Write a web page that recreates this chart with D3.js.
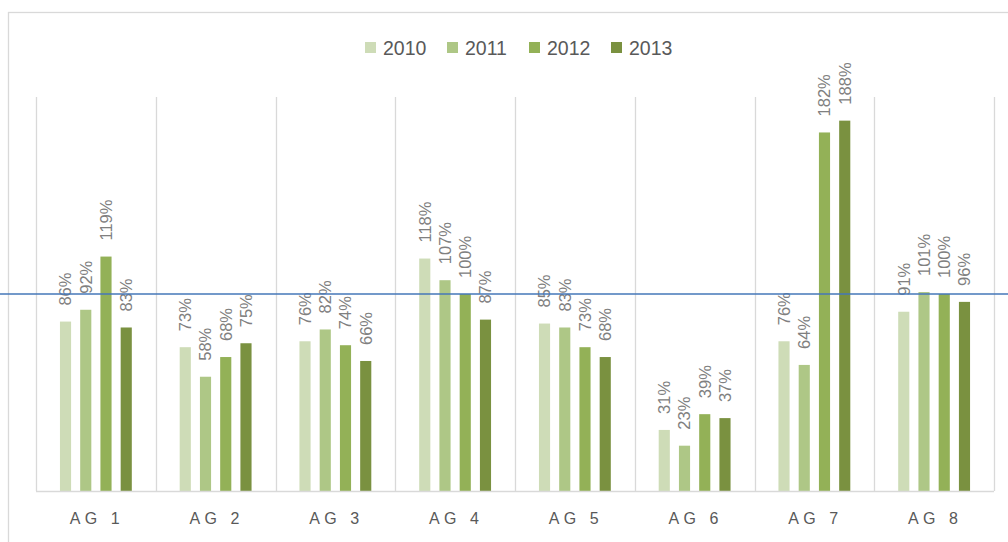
<!DOCTYPE html>
<html>
<head>
<meta charset="utf-8">
<script src="https://cdn.jsdelivr.net/npm/d3@7"></script>
<style>
  body { margin: 0; background: #fff; }
  svg { display: block; font-family: "Liberation Sans", Arial, sans-serif; }
</style>
</head>
<body>
<script>
var width = 1008, height = 542;

// data
var categories = ["AG 1", "AG 2", "AG 3", "AG 4", "AG 5", "AG 6", "AG 7", "AG 8"];
var years = ["2010", "2011", "2012", "2013"];
var v2010 = [86, 73, 76, 118, 85, 31, 76, 91];
var v2011 = [92, 58, 82, 107, 83, 23, 64, 101];
var v2012 = [119, 68, 74, 100, 73, 39, 182, 100];
var v2013 = [83, 75, 66, 87, 68, 37, 188, 96];
var series = [v2010, v2011, v2012, v2013];
var colors = ["#cedcb7", "#aec786", "#93b157", "#7a9140"];
var targetLine = 100;

var margin = {left: 36, right: 14, top: 97, bottom: 51};

var svg = d3.select("body").append("svg")
    .attr("width", width).attr("height", height);

// chart border (runs off right and bottom)
svg.append("rect")
    .attr("x", 8.5).attr("y", 12.5)
    .attr("width", 1100).attr("height", 600)
    .attr("fill", "none").attr("stroke", "#d9d9d9").attr("stroke-width", 1.3);

var x0 = d3.scaleBand()
    .domain(categories)
    .range([margin.left, width - margin.right])
    .padding(0);

var x1 = d3.scaleBand()
    .domain(years)
    .range([x0.bandwidth() * 0.2, x0.bandwidth() * 0.8])
    .paddingInner(0.45)
    .paddingOuter(0);

var y = d3.scaleLinear()
    .domain([0, 200])
    .range([height - margin.bottom, margin.top]);

// vertical gridlines between categories
var edges = categories.map(function(c) { return x0(c); });
edges.push(x0.range()[1]);
svg.selectAll(".vgrid")
    .data(edges)
    .enter().append("line")
    .attr("class", "vgrid")
    .attr("x1", function(d) { return Math.round(d) + 0.5; })
    .attr("x2", function(d) { return Math.round(d) + 0.5; })
    .attr("y1", y(200)).attr("y2", y(0))
    .attr("stroke", "#d9d9d9").attr("stroke-width", 1.3);

// bars
var rows = [];
categories.forEach(function(c, i) {
  years.forEach(function(yr, j) {
    rows.push({cat: c, year: yr, value: series[j][i], color: colors[j]});
  });
});

var g = svg.append("g");
g.selectAll(".bar")
    .data(rows)
    .enter().append("rect")
    .attr("class", "bar")
    .attr("x", function(d) { return x0(d.cat) + x1(d.year); })
    .attr("width", x1.bandwidth())
    .attr("y", function(d) { return y(d.value); })
    .attr("height", function(d) { return y(0) - y(d.value); })
    .attr("fill", function(d) { return d.color; });

// baseline
svg.append("line")
    .attr("x1", x0.range()[0]).attr("x2", x0.range()[1])
    .attr("y1", y(0) + 0.5).attr("y2", y(0) + 0.5)
    .attr("stroke", "#d9d9d9").attr("stroke-width", 1.5);

// value labels, rotated
g.selectAll(".lbl")
    .data(rows)
    .enter().append("text")
    .attr("class", "lbl")
    .attr("transform", function(d) {
      var cx = x0(d.cat) + x1(d.year) + x1.bandwidth() / 2;
      return "translate(" + cx + "," + (y(d.value) - 16) + ") rotate(-90)";
    })
    .attr("dy", "0.36em")
    .attr("text-anchor", "start")
    .attr("fill", "#808080")
    .attr("font-size", 16.5)
    .text(function(d) { return d.value + "%"; });

// 100% reference line
svg.append("line")
    .attr("x1", 0).attr("x2", width)
    .attr("y1", y(targetLine)).attr("y2", y(targetLine))
    .attr("stroke", "#4577b8").attr("stroke-width", 1.5);

// category labels
svg.selectAll(".cat")
    .data(categories)
    .enter().append("text")
    .attr("class", "cat")
    .attr("x", function(d) { return x0(d) + x0.bandwidth() / 2 + 1; })
    .attr("y", 524)
    .attr("text-anchor", "middle")
    .attr("fill", "#595959")
    .attr("font-size", 16)
    .attr("letter-spacing", "4.5px")
    .text(function(d) { return d; });

// legend
var legend = svg.selectAll(".leg")
    .data(years)
    .enter().append("g")
    .attr("class", "leg")
    .attr("transform", function(d, i) { return "translate(" + (365 + i * 82) + ",42)"; });
legend.append("rect")
    .attr("width", 11).attr("height", 11)
    .attr("fill", function(d, i) { return colors[i]; });
legend.append("text")
    .attr("x", 18).attr("y", 5.5)
    .attr("dy", "0.36em")
    .attr("fill", "#595959")
    .attr("font-size", 19.5)
    .text(function(d) { return d; });
</script>
</body>
</html>
